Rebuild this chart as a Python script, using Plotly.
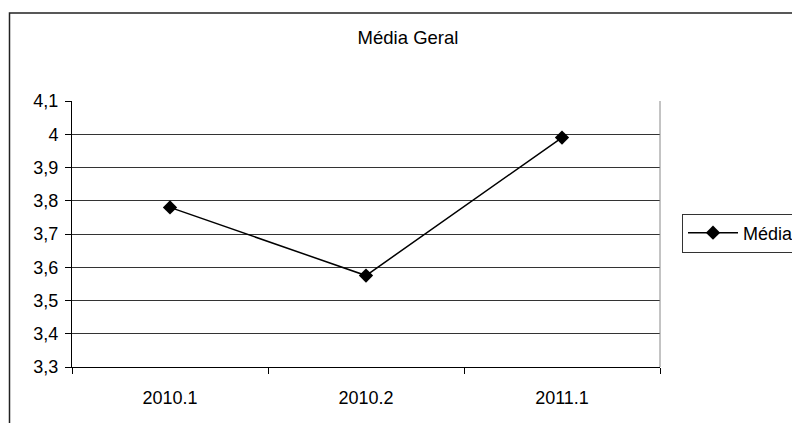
import plotly.graph_objects as go

categories = ["2010.1", "2010.2", "2011.1"]
media_values = [3.78, 3.575, 3.99]
y_ticks = [3.3, 3.4, 3.5, 3.6, 3.7, 3.8, 3.9, 4.0, 4.1]
y_tick_labels = ["3,3", "3,4", "3,5", "3,6", "3,7", "3,8", "3,9", "4", "4,1"]

W, H = 792, 423
L, R, T, B = 72, 132, 101, 56
pw, ph = W - L - R, H - T - B

def px_to_paper_x(px):
    return (px - L) / pw

def px_to_paper_y(py):
    return (H - B - py) / ph

fig = go.Figure()
fig.add_trace(go.Scatter(
    x=categories, y=media_values, mode="lines+markers", name="Média",
    line=dict(color="black", width=1.5),
    marker=dict(symbol="diamond", size=11, color="black"),
))

fig.update_layout(
    width=W, height=H,
    margin=dict(l=L, r=R, t=T, b=B, autoexpand=False),
    paper_bgcolor="white", plot_bgcolor="white",
    font=dict(family="Liberation Sans, Arial, sans-serif", size=18, color="black"),
    title=dict(text="Média Geral", x=408 / W, xref="container", xanchor="center",
               y=1 - 38 / H, yref="container", yanchor="middle", font=dict(size=18.5)),
    showlegend=True,
    legend=dict(x=px_to_paper_x(682), y=px_to_paper_y(233), xanchor="left", yanchor="middle",
                bordercolor="#333", borderwidth=1, bgcolor="white",
                font=dict(size=18), itemwidth=50, tracegroupgap=0),
    xaxis=dict(type="category", tickson="boundaries", ticks="outside", ticklen=6,
               tickcolor="black", showgrid=False, showline=True, linecolor="black",
               linewidth=1, range=[-0.5, 2.5], zeroline=False, ticklabelstandoff=14),
    yaxis=dict(range=[3.3, 4.1], tickvals=y_ticks, ticktext=y_tick_labels,
               ticks="outside", ticklen=6, tickcolor="black", showgrid=True,
               gridcolor="#333", gridwidth=1, showline=True, linecolor="black",
               linewidth=1, zeroline=False, ticklabelstandoff=3),
)

# plot area right border (gray)
fig.add_shape(type="line", xref="paper", yref="paper", x0=1, x1=1, y0=0, y1=1,
              line=dict(color="#888", width=1))
# outer chart border
fig.add_shape(type="rect", xref="paper", yref="paper",
              x0=px_to_paper_x(9.5), x1=px_to_paper_x(W + 20),
              y0=px_to_paper_y(H + 20), y1=px_to_paper_y(13),
              line=dict(color="#222", width=1.5), layer="below")

fig.write_html("out.html")
